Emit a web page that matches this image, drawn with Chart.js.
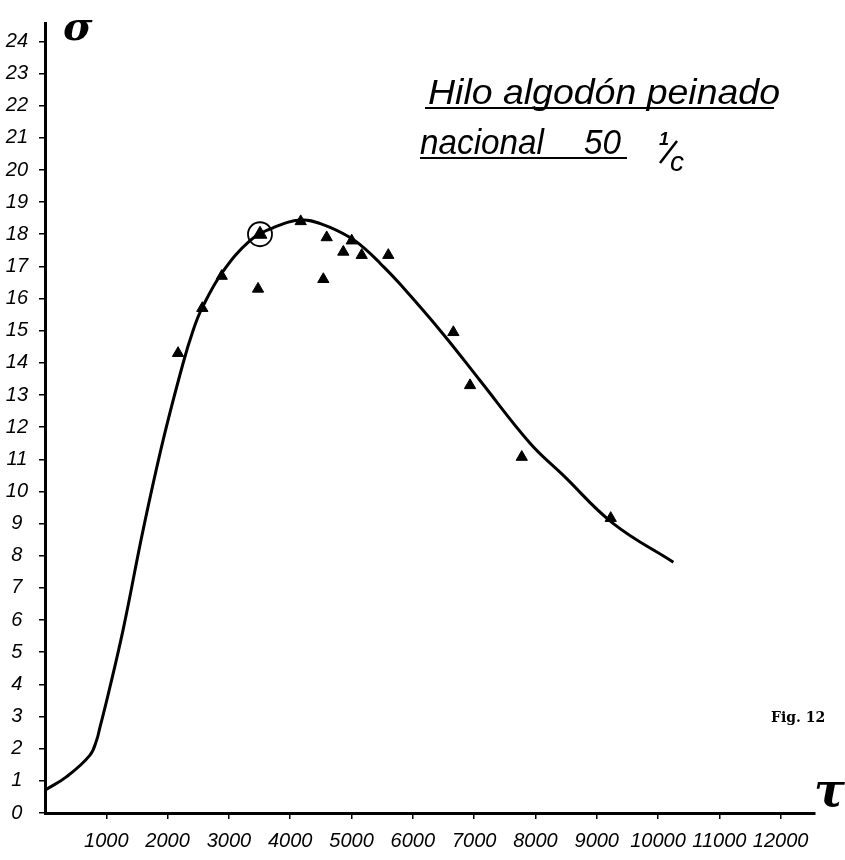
<!DOCTYPE html>
<html>
<head>
<meta charset="utf-8">
<script src="https://cdn.jsdelivr.net/npm/chart.js@4"></script>
<style>
  html, body { margin: 0; padding: 0; background: #fff; }
  #wrap { width: 845px; height: 860px; }
</style>
</head>
<body>
<div id="wrap"><canvas id="myChart" width="845" height="860"></canvas></div>
<script>
// # Data (tau on x, sigma on y)
const curveX = [0, 354, 734, 843, 897, 1007, 1272, 1599, 1925, 2251, 2414, 2561, 2887, 3344, 3719, 4171, 4535, 4976, 5248, 5465, 5791, 6493, 7096, 7912, 8455, 9271, 10250];
const curveY = [0.71, 1.13, 1.8, 2.27, 2.67, 3.5, 5.68, 8.79, 11.58, 13.98, 15.0, 15.7, 16.8, 17.8, 18.2, 18.44, 18.3, 17.9, 17.5, 17.1, 16.45, 14.9, 13.45, 11.5, 10.5, 9.0, 7.8];

const pointX = [2170, 2566, 2883, 3475, 4171, 4540, 4595, 4866, 5003, 5166, 5600, 6661, 6933, 7777, 9228];
const pointY = [14.3, 15.7, 16.7, 16.3, 18.4, 16.6, 17.9, 17.45, 17.8, 17.35, 17.35, 14.95, 13.3, 11.07, 9.17];

const circledX = [3507];
const circledY = [18.0];

const xTickValues = [1000, 2000, 3000, 4000, 5000, 6000, 7000, 8000, 9000, 10000, 11000, 12000];
const yTickValues = [0, 1, 2, 3, 4, 5, 6, 7, 8, 9, 10, 11, 12, 13, 14, 15, 16, 17, 18, 19, 20, 21, 22, 23, 24];

const titleLine1 = "Hilo algodón peinado";
const titleLine2a = "nacional";
const titleLine2b = "50";
const figLabel = "Fig. 12";

const toXY = (xs, ys) => xs.map((x, i) => ({ x: x, y: ys[i] }));

// # Write text stretched to a given width
const fitText = (ctx, text, x, y, w) => {
  const m = ctx.measureText(text).width;
  ctx.save();
  ctx.translate(x, y);
  ctx.scale(w / m, 1);
  ctx.fillText(text, 0, 0);
  ctx.restore();
};

// # Texts drawn by hand on the sheet
const sheetText = {
  id: "sheetText",
  afterDraw(chart) {
    const ctx = chart.ctx;
    ctx.save();
    ctx.fillStyle = "#000";
    ctx.strokeStyle = "#000";
    ctx.textBaseline = "alphabetic";
    ctx.textAlign = "left";

    // axis symbols
    ctx.font = "italic bold 40px 'DejaVu Serif'";
    ctx.fillText("σ", 63, 40);
    ctx.font = "italic bold 46px 'DejaVu Serif'";
    ctx.fillText("τ", 814, 806);

    // title
    ctx.font = "italic 35px 'Liberation Sans'";
    fitText(ctx, titleLine1, 428, 104, 352);
    fitText(ctx, titleLine2a, 420, 154, 124);
    fitText(ctx, titleLine2b, 584, 154, 37);
    ctx.lineWidth = 2;
    ctx.beginPath();
    ctx.moveTo(425, 108); ctx.lineTo(774, 108);
    ctx.moveTo(420, 158); ctx.lineTo(627, 158);
    ctx.stroke();

    ctx.font = "italic bold 18px 'Liberation Sans'";
    ctx.fillText("1", 659, 145);
    ctx.lineWidth = 2.5;
    ctx.beginPath();
    ctx.moveTo(660, 163); ctx.lineTo(677, 141);
    ctx.stroke();
    ctx.font = "italic 28px 'Liberation Sans'";
    ctx.fillText("c", 670, 171);

    ctx.font = "bold 14px 'DejaVu Serif'";
    ctx.fillText(figLabel, 771, 722);
    ctx.restore();
  },
};

const chart = document.getElementById("myChart");

new Chart(chart, {
  type: "scatter",
  data: {
    datasets: [
      {
        label: "curva",
        data: toXY(curveX, curveY),
        showLine: true,
        borderColor: "#000",
        borderWidth: 3,
        pointRadius: 0,
        tension: 0.4,
        order: 3,
      },
      {
        label: "ensayos",
        data: toXY(pointX, pointY),
        pointStyle: "triangle",
        pointRadius: 6.5,
        backgroundColor: "#000",
        borderColor: "#000",
        borderWidth: 1,
        order: 1,
      },
      {
        label: "marcado",
        data: toXY(circledX, circledY),
        pointStyle: "triangle",
        pointRadius: 8,
        backgroundColor: "#000",
        borderColor: "#000",
        borderWidth: 1,
        order: 1,
      },
      {
        label: "circulo",
        data: toXY(circledX, circledY),
        pointStyle: "circle",
        pointRadius: 12,
        backgroundColor: "rgba(0,0,0,0)",
        borderColor: "#000",
        borderWidth: 1.8,
        order: 2,
      },
    ],
  },
  options: {
    responsive: false,
    animation: false,
    layout: { padding: { top: 22, right: 30, left: 0, bottom: 0 } },
    plugins: {
      legend: { display: false },
      tooltip: { enabled: false },
    },
    scales: {
      x: {
        type: "linear",
        min: 0,
        max: 12560,
        afterBuildTicks: (scale) => {
          scale.ticks = xTickValues.map((v) => ({ value: v }));
        },
        afterFit: (scale) => {
          scale.height = 47;
        },
        ticks: {
          autoSkip: false,
          maxRotation: 0,
          padding: 10,
          color: "#000",
          font: { family: "'Liberation Sans'", size: 20, style: "italic" },
          callback: (v) => String(v),
        },
        grid: { drawOnChartArea: false, tickLength: 6, color: "#000", lineWidth: 1.5 },
        border: { color: "#000", width: 3 },
      },
      y: {
        type: "linear",
        min: 0,
        max: 24.57,
        afterBuildTicks: (scale) => {
          scale.ticks = yTickValues.map((v) => ({ value: v }));
        },
        afterFit: (scale) => {
          scale.width = 45;
        },
        ticks: {
          autoSkip: false,
          crossAlign: "center",
          padding: 11,
          color: "#000",
          font: { family: "'Liberation Sans'", size: 20, style: "italic" },
          callback: (v) => String(v),
        },
        grid: { drawOnChartArea: false, tickLength: 6, color: "#000", lineWidth: 1.5 },
        border: { color: "#000", width: 3 },
      },
    },
  },
  plugins: [sheetText],
});
</script>
</body>
</html>
